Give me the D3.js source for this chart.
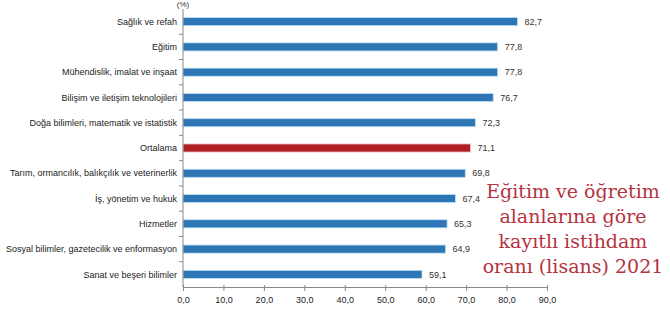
<!DOCTYPE html>
<html>
<head>
<meta charset="utf-8">
<script src="https://cdn.jsdelivr.net/npm/d3@7"></script>
<style>
  body { margin: 0; background: #fff; }
  svg { display: block; }
</style>
</head>
<body>
<svg width="670" height="310"></svg>
<script>
// kayıtlı istihdam oranı, alanlara göre
const categories = [
  'Sağlık ve refah',
  'Eğitim',
  'Mühendislik, imalat ve inşaat',
  'Bilişim ve iletişim teknolojileri',
  'Doğa bilimleri, matematik ve istatistik',
  'Ortalama',
  'Tarım, ormancılık, balıkçılık ve veterinerlik',
  'İş, yönetim ve hukuk',
  'Hizmetler',
  'Sosyal bilimler, gazetecilik ve enformasyon',
  'Sanat ve beşeri bilimler'
];
const values = [82.7, 77.8, 77.8, 76.7, 72.3, 71.1, 69.8, 67.4, 65.3, 64.9, 59.1];
const xTicks = [0, 10, 20, 30, 40, 50, 60, 70, 80, 90];
const titleLines = ['Eğitim ve öğretim', 'alanlarına göre', 'kayıtlı istihdam', 'oranı (lisans) 2021'];

const svg = d3.select('svg');
const plotLeft = 183, plotRight = 547, plotTop = 9, plotBottom = 287;

const x = d3.scaleLinear().domain([0, 90]).range([plotLeft, plotRight]);
const y = d3.scaleBand().domain(categories).range([plotTop, plotBottom]).paddingInner(0.68).paddingOuter(0.34);
const yb = d3.scaleBand().domain(categories).range([plotTop, plotBottom]);

const fmt = (v) => v.toFixed(1).replace('.', ',');

// bars
svg.selectAll('rect.bar')
  .data(categories)
  .enter()
  .append('rect')
  .attr('class', 'bar')
  .attr('x', x(0))
  .attr('y', (d) => y(d))
  .attr('width', (d, i) => x(values[i]) - x(0))
  .attr('height', y.bandwidth())
  .attr('fill', (d) => (d === 'Ortalama' ? '#b01f24' : '#2e75b6'))
  .attr('stroke', (d) => (d === 'Ortalama' ? '#f2c9c9' : '#bfe3f5'))
  .attr('stroke-width', 0.8);

// value labels
svg.selectAll('text.val')
  .data(categories)
  .enter()
  .append('text')
  .attr('class', 'val')
  .attr('x', (d, i) => x(values[i]) + 7)
  .attr('y', (d) => y(d) + y.bandwidth() / 2)
  .attr('dy', '0.35em')
  .attr('font-family', 'Liberation Sans, Arial, sans-serif')
  .attr('font-size', 9)
  .attr('fill', '#333')
  .text((d, i) => fmt(values[i]));

// y axis
const yAxis = svg.append('g').attr('transform', `translate(${plotLeft},0)`);
yAxis.append('line')
  .attr('x1', 0).attr('x2', 0).attr('y1', plotTop).attr('y2', plotBottom)
  .attr('stroke', '#888');
yAxis.selectAll('line.tk')
  .data(categories.slice(1))
  .enter()
  .append('line')
  .attr('class', 'tk')
  .attr('x1', -4).attr('x2', 0)
  .attr('y1', (d) => yb(d)).attr('y2', (d) => yb(d))
  .attr('stroke', '#888');
yAxis.selectAll('text')
  .data(categories)
  .enter()
  .append('text')
  .attr('x', -6)
  .attr('y', (d) => y(d) + y.bandwidth() / 2)
  .attr('dy', '0.35em')
  .attr('text-anchor', 'end')
  .attr('font-family', 'Liberation Sans, Arial, sans-serif')
  .attr('font-size', 9)
  .attr('fill', '#222')
  .text((d) => d);

// x axis
const xAxis = svg.append('g')
  .attr('transform', `translate(0,${plotBottom})`)
  .call(d3.axisBottom(x).tickValues(xTicks).tickSize(4).tickFormat(fmt));
xAxis.select('.domain').attr('stroke', '#888');
xAxis.selectAll('.tick line').attr('stroke', '#888').attr('y1', -2);
xAxis.selectAll('.tick text')
  .attr('font-family', 'Liberation Sans, Arial, sans-serif')
  .attr('font-size', 9)
  .attr('fill', '#222')
  .attr('y', 10);

svg.append('text')
  .attr('x', plotLeft)
  .attr('y', 7)
  .attr('text-anchor', 'middle')
  .attr('font-family', 'Liberation Sans, Arial, sans-serif')
  .attr('font-size', 8)
  .attr('fill', '#333')
  .text('(%)');

// overlay title
svg.selectAll('text.title')
  .data(titleLines)
  .enter()
  .append('text')
  .attr('class', 'title')
  .attr('x', 573)
  .attr('y', (d, i) => 198 + i * 25)
  .attr('text-anchor', 'middle')
  .attr('font-family', 'DejaVu Serif, serif')
  .attr('font-size', 19)
  .attr('fill', '#b5333f')
  .text((d) => d);
</script>
</body>
</html>
